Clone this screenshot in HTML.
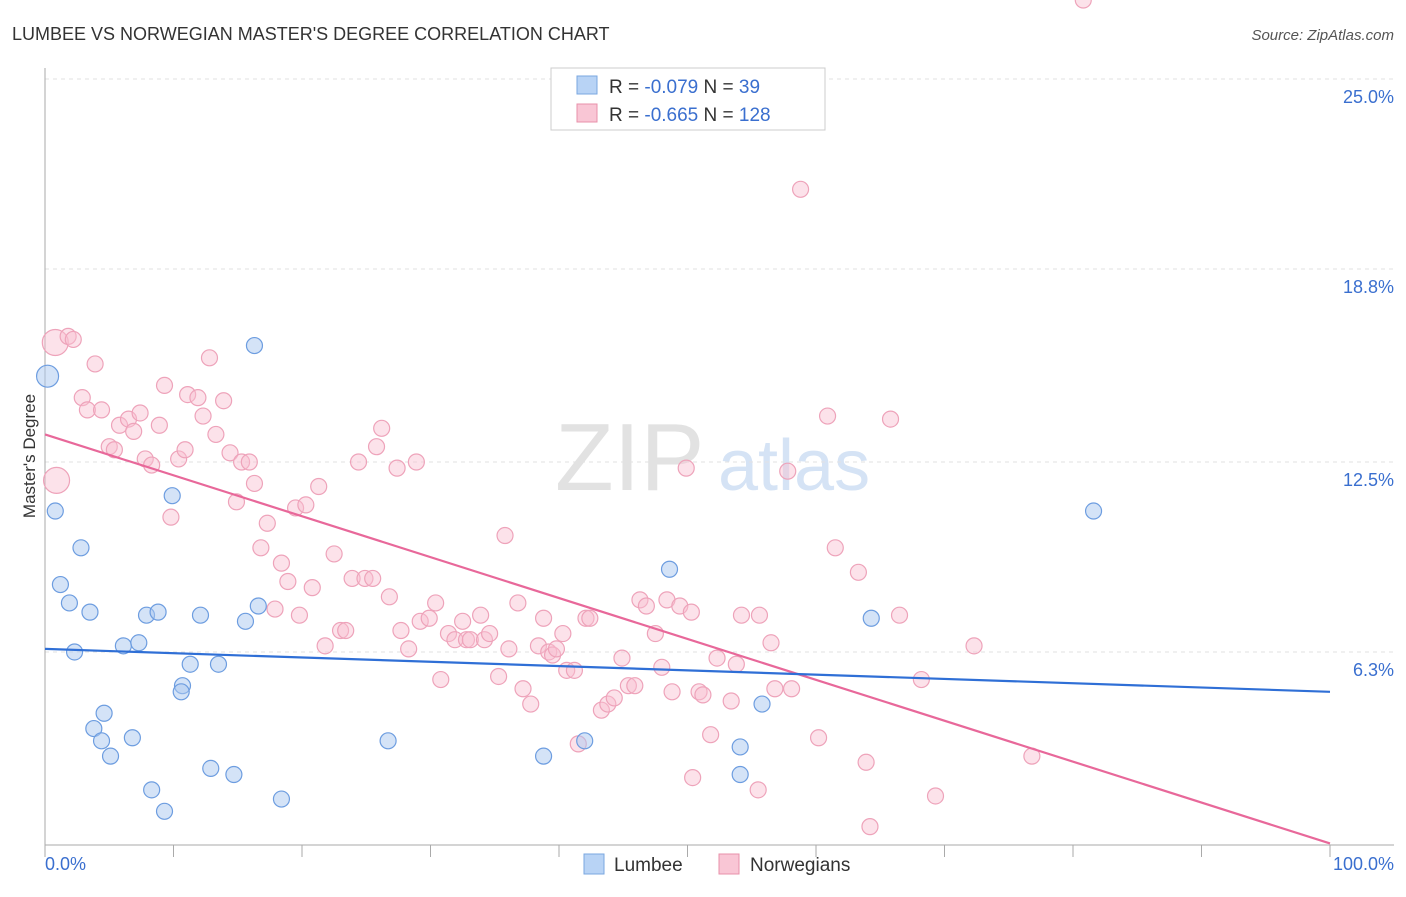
<!DOCTYPE html>
<html><head><meta charset="utf-8"><style>
body{margin:0;background:#fff;font-family:"Liberation Sans",sans-serif}
svg text{font-family:"Liberation Sans",sans-serif}
</style></head><body>
<svg id="c" width="1406" height="892">
<text x="12" y="40" font-size="18" fill="#333">LUMBEE VS NORWEGIAN MASTER'S DEGREE CORRELATION CHART</text>
<text x="1394" y="40" font-size="15" fill="#555" text-anchor="end" font-style="italic">Source: ZipAtlas.com</text>
<text x="35" y="456" font-size="17" fill="#333" text-anchor="middle" transform="rotate(-90 35 456)">Master's Degree</text>
<text x="555" y="490" font-size="96" fill="#e2e2e2" font-family="Liberation Serif">ZIP</text>
<text x="718" y="490" font-size="72" fill="#d5e3f5">atlas</text>
<g id="grid"></g><g id="pts"></g><g id="lines"></g>
<g>
<rect x="551" y="68" width="274" height="62" fill="#fff" stroke="#ccc"/>
<rect x="577" y="76" width="20" height="18" fill="#b8d3f5" stroke="#7aa7e0"/>
<text x="609" y="93" font-size="19" fill="#333">R = <tspan fill="#3a6fcf">-0.079</tspan>   N = <tspan fill="#3a6fcf"> 39</tspan></text>
<rect x="577" y="104" width="20" height="18" fill="#f9c6d5" stroke="#e890aa"/>
<text x="609" y="121" font-size="19" fill="#333">R = <tspan fill="#3a6fcf">-0.665</tspan>   N = <tspan fill="#3a6fcf">128</tspan></text>
</g>
<g>
<rect x="584" y="854" width="20" height="20" fill="#b8d3f5" stroke="#7aa7e0"/>
<text x="614" y="871" font-size="19" fill="#333">Lumbee</text>
<rect x="719" y="854" width="20" height="20" fill="#f9c6d5" stroke="#e890aa"/>
<text x="750" y="871" font-size="19" fill="#333">Norwegians</text>
</g>
<text x="45" y="870" font-size="18" fill="#3a6fcf">0.0%</text>
<text x="1394" y="870" font-size="18" fill="#3a6fcf" text-anchor="end">100.0%</text>
</svg>
<script>
const yTicks=[25.0,18.8,12.5,6.3];
const blueX=[0.2,0.8,2.8,1.2,1.9,3.5,2.3,6.1,7.3,7.9,8.8,9.9,12.1,11.3,13.5,10.7,10.6,4.6,3.8,4.4,5.1,6.8,8.3,9.3,12.9,14.7,18.4,16.3,16.6,15.6,26.7,38.8,42.0,48.6,54.1,54.1,55.8,64.3,81.6];
const blueY=[15.3,10.9,9.7,8.5,7.9,7.6,6.3,6.5,6.6,7.5,7.6,11.4,7.5,5.9,5.9,5.2,5.0,4.3,3.8,3.4,2.9,3.5,1.8,1.1,2.5,2.3,1.5,16.3,7.8,7.3,3.4,2.9,3.4,9.0,3.2,2.3,4.6,7.4,10.9];
const pinkX=[0.8,1.8,2.2,0.9,3.9,2.9,3.3,4.4,5.0,5.4,5.8,6.5,6.9,7.4,8.9,7.8,8.3,9.3,10.4,9.8,10.9,11.1,11.9,12.3,12.8,13.3,13.9,14.4,15.3,15.9,16.3,14.9,17.3,16.8,18.4,18.9,17.9,19.8,19.5,20.3,21.3,20.8,21.8,22.5,23.0,23.4,23.9,24.9,25.5,24.4,25.8,26.2,27.4,28.9,26.8,27.7,28.3,29.2,29.9,30.4,30.8,31.4,31.9,32.5,32.8,33.1,33.9,34.2,34.6,35.3,36.1,36.8,37.2,37.8,35.8,38.4,38.8,39.2,39.5,39.8,40.3,40.6,41.2,41.5,42.1,42.4,43.3,43.8,44.3,44.9,45.4,45.9,46.3,46.8,47.5,48.0,48.4,48.8,49.4,49.9,50.3,50.9,50.4,51.2,51.8,52.3,53.4,53.8,54.2,55.5,55.6,56.8,56.5,58.1,58.8,57.8,60.2,60.9,61.5,63.3,63.9,64.2,65.8,66.5,68.2,69.3,72.3,76.8,80.8];
const pinkY=[16.4,16.6,16.5,11.9,15.7,14.6,14.2,14.2,13.0,12.9,13.7,13.9,13.5,14.1,13.7,12.6,12.4,15.0,12.6,10.7,12.9,14.7,14.6,14.0,15.9,13.4,14.5,12.8,12.5,12.5,11.8,11.2,10.5,9.7,9.2,8.6,7.7,7.5,11.0,11.1,11.7,8.4,6.5,9.5,7.0,7.0,8.7,8.7,8.7,12.5,13.0,13.6,12.3,12.5,8.1,7.0,6.4,7.3,7.4,7.9,5.4,6.9,6.7,7.3,6.7,6.7,7.5,6.7,6.9,5.5,6.4,7.9,5.1,4.6,10.1,6.5,7.4,6.3,6.2,6.4,6.9,5.7,5.7,3.3,7.4,7.4,4.4,4.6,4.8,6.1,5.2,5.2,8.0,7.8,6.9,5.8,8.0,5.0,7.8,12.3,7.6,5.0,2.2,4.9,3.6,6.1,4.7,5.9,7.5,1.8,7.5,5.1,6.6,5.1,21.4,12.2,3.5,14.0,9.7,8.9,2.7,0.6,13.9,7.5,5.4,1.6,6.5,2.9];
const pinkBig=[0,3];
const blueBig=[0];
const pinkFit=[13.4,0.05];
const blueFit=[6.4,5.0];
const X0=45,X1=1330,Y0=845,YH=766;
const sx=v=>X0+v/100*(X1-X0);
const sy=v=>Y0-v/25*YH;
const NS='http://www.w3.org/2000/svg';
const mk=(t,a,p)=>{const e=document.createElementNS(NS,t);for(const k in a)e.setAttribute(k,a[k]);p.appendChild(e);return e;};
const grid=document.getElementById('grid');
yTicks.forEach(t=>{
 const l=mk('line',{x1:X0,x2:1394,y1:sy(t),y2:sy(t),stroke:'#e2e2e2','stroke-dasharray':'4,4'},grid);
 
 
 const tx=mk('text',{x:1394,y:sy(t)+24,'font-size':18,fill:'#3a6fcf','text-anchor':'end'},grid);
 tx.textContent=t.toFixed(1)+'%';
 
 
});
const ax=mk('line',{x1:X0,x2:X0,y1:68,y2:Y0,stroke:'#aaa'},grid);


const bx=mk('line',{x1:X0,x2:1394,y1:Y0,y2:Y0,stroke:'#aaa'},grid);


for(let i=0;i<=10;i++){const tk=mk('line',{x1:sx(i*10),x2:sx(i*10),y1:Y0,y2:Y0+12,stroke:'#aaa'},grid);
 
 }
const pts=document.getElementById('pts');
pinkX.forEach((x,i)=>{const c=mk('circle',{cx:sx(x),cy:sy(pinkY[i]),r:pinkBig.includes(i)?13:8,fill:'rgba(248,190,208,0.45)',stroke:'#eea3ba','stroke-width':1.2},pts);
 
 });
blueX.forEach((x,i)=>{const c=mk('circle',{cx:sx(x),cy:sy(blueY[i]),r:blueBig.includes(i)?11:8,fill:'rgba(170,200,240,0.5)',stroke:'#6d9de0','stroke-width':1.2},pts);
 
 });
const ln=document.getElementById('lines');
const p=mk('line',{x1:sx(0),y1:sy(pinkFit[0]),x2:sx(100),y2:sy(pinkFit[1]),stroke:'#e8689a','stroke-width':2.2},ln);


const b=mk('line',{x1:sx(0),y1:sy(blueFit[0]),x2:sx(100),y2:sy(blueFit[1]),stroke:'#2f6fd6','stroke-width':2.2},ln);


</script>
</body></html>
